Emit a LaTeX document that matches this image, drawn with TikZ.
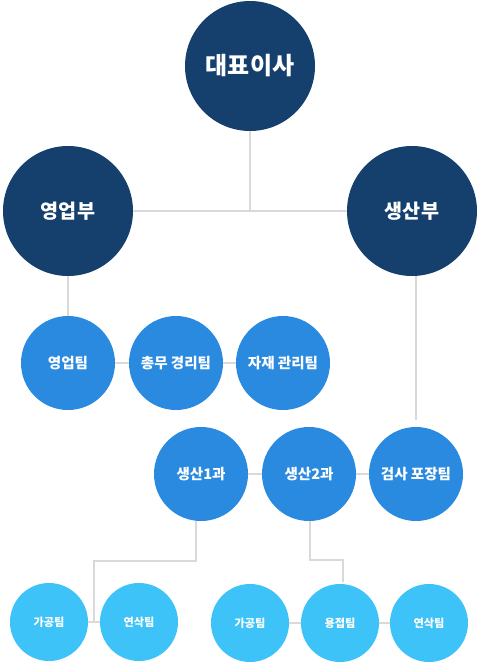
\documentclass[tikz,border=0pt]{standalone}
\usepackage{fontspec}
\newfontfamily\kr{Noto Sans CJK KR}
\definecolor{navy}{HTML}{15406E}
\definecolor{midblue}{HTML}{2A8ADF}
\definecolor{lightblue}{HTML}{3DC3F7}
\definecolor{linegray}{HTML}{D9D9D9}
\begin{document}
\begin{tikzpicture}[x=0.75pt,y=-0.75pt,
  big/.style={circle,fill=navy,text=white,minimum size=97.5pt,inner sep=0pt,font=\kr\bfseries},
  mid/.style={circle,fill=midblue,text=white,minimum size=70.5pt,inner sep=0pt,font=\kr\bfseries\fontsize{10.9}{13}\selectfont},
  small/.style={circle,fill=lightblue,text=white,minimum size=58.5pt,inner sep=0pt,font=\kr\bfseries\fontsize{8.4}{10}\selectfont},
  conn/.style={draw=linegray,line width=1.1pt}]
\useasboundingbox (0,0) rectangle (480,672);
% nodes
\node[big,font=\kr\bfseries\fontsize{18}{22}\selectfont] (ceo) at (250,66) {대표이사};
\node[big,font=\kr\bfseries\fontsize{14.7}{18}\selectfont] (sales) at (68,211) {영업부};
\node[big,font=\kr\bfseries\fontsize{14.7}{18}\selectfont] (prod) at (412,211) {생산부};
\node[mid] (t1) at (68,363) {영업팀};
\node[mid] (t2) at (176,363) {총무 경리팀};
\node[mid] (t3) at (283,363) {자재 관리팀};
\node[mid] (p1) at (201,474) {생산1과};
\node[mid] (p2) at (309,474) {생산2과};
\node[mid] (insp) at (416,474) {검사 포장팀};
\node[small] (g1) at (49,622) {가공팀};
\node[small] (y1) at (139,622) {연삭팀};
\node[small] (g2) at (250,623) {가공팀};
\node[small] (w) at (340,623) {용접팀};
\node[small] (y2) at (429,623) {연삭팀};
% junction coordinates
\coordinate (mid1) at (250,211);
\coordinate (a1) at (196,561);
\coordinate (a2) at (94,561);
\coordinate (a3) at (94,622);
\coordinate (b1) at (310,560);
\coordinate (b2) at (343,560);
\coordinate (b3) at (343,582);
\coordinate (c1) at (416,420);
% connectors
\draw[conn] (sales.east) -- (prod.west);
\draw[conn] (ceo.south) -- (mid1);
\draw[conn] (sales.south) -- (t1.north);
\draw[conn] (prod.south -| c1) -- (c1);
\draw[conn] (t1.east) -- (t2.west);
\draw[conn] (t2.east) -- (t3.west);
\draw[conn] (p1.east) -- (p2.west);
\draw[conn] (p2.east) -- (insp.west);
\draw[conn] (p1.south -| a1) -- (a1) -- (a2) -- (a3);
\draw[conn] (g1.east) -- (y1.west);
\draw[conn] (p2.south -| b1) -- (b1) -- (b2) -- (b3);
\draw[conn] (g2.east) -- (w.west);
\draw[conn] (w.east) -- (y2.west);
\end{tikzpicture}
\end{document}
